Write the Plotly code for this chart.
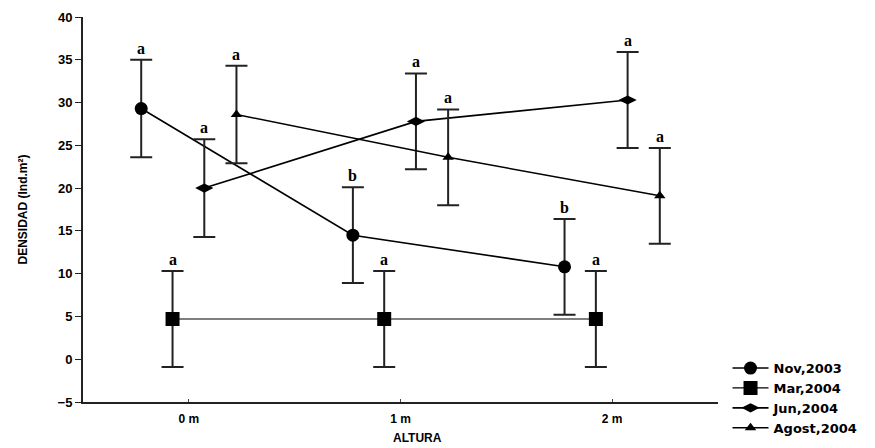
import plotly.graph_objects as go

categories = ["0 m", "1 m", "2 m"]
series_names = ["Nov,2003", "Mar,2004", "Jun,2004", "Agost,2004"]
nov = [29.3, 14.5, 10.8]
mar = [4.7, 4.7, 4.7]
jun = [20.0, 27.8, 30.3]
agost = [28.6, 23.6, 19.1]
nov_err = [5.7, 5.6, 5.6]
mar_err = [5.6, 5.6, 5.6]
jun_err = [5.7, 5.6, 5.6]
agost_err = [5.7, 5.6, 5.6]
nov_letters = ["a", "b", "b"]
mar_letters = ["a", "a", "a"]
jun_letters = ["a", "a", "a"]
agost_letters = ["a", "a", "a"]

values = [nov, mar, jun, agost]
errors = [nov_err, mar_err, jun_err, agost_err]
letters = [nov_letters, mar_letters, jun_letters, agost_letters]
offsets = [-0.225, -0.077, 0.073, 0.225]
symbols = ["circle", "square", "diamond-wide", "triangle-up"]
sizes = [13, 14, 13, 10]
line_widths = [1.6, 1.2, 1.6, 1.4]

fig = go.Figure()
for name, vals, errs, off, sym, sz, lw in zip(series_names, values, errors, offsets, symbols, sizes, line_widths):
    xs = [i + off for i in range(len(categories))]
    fig.add_trace(go.Scatter(
        x=xs, y=vals, name=name, mode="lines+markers",
        line=dict(color="black", width=lw),
        marker=dict(symbol=sym, size=sz, color="black"),
        error_y=dict(type="data", array=errs, visible=True, color="#222", thickness=2, width=11),
    ))

annotations = []
for vals, errs, labs, off in zip(values, errors, letters, offsets):
    for i, (v, e, l) in enumerate(zip(vals, errs, labs)):
        annotations.append(dict(
            x=i + off, y=v + e, text="<b>%s</b>" % l, showarrow=False,
            yanchor="bottom", yshift=1, xref="x", yref="y",
            font=dict(family="Liberation Serif", size=16, color="black"),
        ))

annotations.append(dict(
    x=-0.096, y=0.5, xref="paper", yref="paper", textangle=-90,
    xanchor="center", yanchor="middle",
    text="<b>DENSIDAD (Ind.m²)</b>", showarrow=False,
    font=dict(family="Liberation Sans", size=12, color="black"),
))
annotations.append(dict(
    x=0.526, y=0, xref="paper", yref="paper", yshift=-36, yanchor="middle",
    text="<b>ALTURA</b>", showarrow=False,
    font=dict(family="Liberation Sans", size=12, color="black"),
))

fig.update_layout(
    width=875, height=448,
    margin=dict(l=83, r=157, t=17, b=46, autoexpand=False),
    paper_bgcolor="white", plot_bgcolor="white",
    showlegend=True,
    legend=dict(x=1.015, y=0.127, xanchor="left", yanchor="top",
                font=dict(family="DejaVu Sans", size=13, color="black", weight="bold"),
                tracegroupgap=0, itemsizing="trace", itemwidth=36,
                bgcolor="rgba(0,0,0,0)"),
    annotations=annotations,
    font=dict(family="Liberation Sans", color="black"),
)
fig.update_xaxes(
    range=[-0.5, 2.5], tickvals=list(range(len(categories))),
    ticktext=["<b>%s</b>" % c for c in categories],
    showline=True, linecolor="#222", linewidth=2, showgrid=False, zeroline=False,
    ticks="inside", ticklen=3, tickcolor="#444", ticklabelstandoff=5,
    tickfont=dict(family="Liberation Sans", size=12, color="black"),
)
fig.update_yaxes(
    range=[-5, 40], dtick=5,
    showline=True, linecolor="#222", linewidth=2, showgrid=False, zeroline=False,
    ticks="outside", ticklen=6, tickcolor="#222",
    tickfont=dict(family="Liberation Sans", size=13, color="black"),
    tickprefix="<b>", ticksuffix="</b>",
)

fig.write_html("out.html")
